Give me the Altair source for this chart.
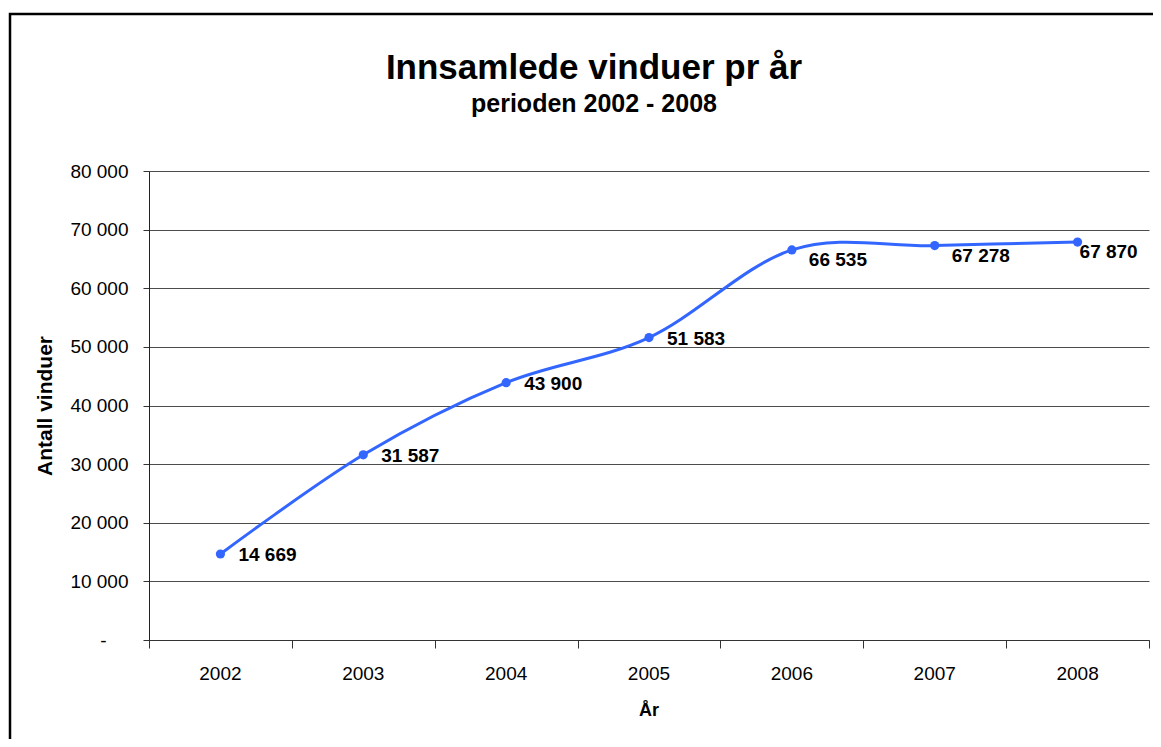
import altair as alt
import pandas as pd

years = ["2002", "2003", "2004", "2005", "2006", "2007", "2008"]
values = [14669, 31587, 43900, 51583, 66535, 67278, 67870]
y_ticks = [0, 10000, 20000, 30000, 40000, 50000, 60000, 70000, 80000]
title_text = "Innsamlede vinduer pr år"
subtitle_text = "perioden 2002 - 2008"
y_title = "Antall vinduer"
x_title = "År"

df = pd.DataFrame({
    "year": years,
    "value": values,
    "pos": [i + 0.5 for i in range(len(years))],
    "label": [f"{v:,}".replace(",", " ") for v in values],
})

FONT = "Liberation Sans"
W, H = 1000, 469
BLUE = "#3366FF"
GRID = "#4d4d4d"

xscale = alt.Scale(domain=[0, len(years)], nice=False, zero=False)
yscale = alt.Scale(domain=[0, 80000], nice=False)

x_enc = alt.X("pos:Q", scale=xscale,
              axis=alt.Axis(values=list(range(len(years) + 1)), labels=False, grid=False,
                            tickSize=8, tickColor="#333", domainColor="#333", title=None))
y_enc = alt.Y("value:Q", scale=yscale,
              axis=alt.Axis(values=y_ticks,
                            labelExpr="datum.value == 0 ? '-' : replace(format(datum.value, ','), ',', ' ')",
                            labelFont=FONT, labelFontSize=19, labelColor="#000",
                            labelPadding={"condition": {"test": "datum.value == 0", "value": 37}, "value": 15},
                            tickSize=6, tickColor="#333",
                            domainColor="#222", gridColor=GRID, gridWidth=1,
                            title=y_title, titleFont=FONT, titleFontSize=21,
                            titleFontWeight="bold", titleColor="#000",
                            titleAngle=270, titleBaseline="alphabetic", titleAlign="center",
                            titleX=-98, titleY=H / 2))

base = alt.Chart(df)

line = base.mark_line(color=BLUE, strokeWidth=3, interpolate="cardinal", tension=0).encode(
    x=x_enc, y=y_enc)
points = base.mark_point(filled=True, color=BLUE, size=85, opacity=1).encode(
    x="pos:Q", y="value:Q")

lab_style = dict(font=FONT, fontSize=19, fontWeight="bold", color="#000",
                 align="left", baseline="middle")
labels_a = base.transform_filter("datum.pos < 4").mark_text(dx=18, dy=1, **lab_style).encode(
    x="pos:Q", y="value:Q", text="label:N")
labels_b = base.transform_filter("datum.pos > 4 && datum.pos < 6").mark_text(dx=17, dy=10, **lab_style).encode(
    x="pos:Q", y="value:Q", text="label:N")
labels_c = base.transform_filter("datum.pos > 6").mark_text(dx=2, dy=10, **lab_style).encode(
    x="pos:Q", y="value:Q", text="label:N")

xlabels = base.mark_text(font=FONT, fontSize=19, color="#000", baseline="middle").encode(
    x="pos:Q", y=alt.value(503), text="year:N")

one = alt.Data(values=[{"a": 1}])
title = alt.Chart(one).mark_text(font=FONT, fontSize=35, fontWeight="bold", color="#000",
                                 baseline="middle").encode(
    x=alt.value(445), y=alt.value(-103), text=alt.value(title_text))
subtitle = alt.Chart(one).mark_text(font=FONT, fontSize=25, fontWeight="bold", color="#000",
                                    baseline="middle").encode(
    x=alt.value(445), y=alt.value(-67), text=alt.value(subtitle_text))
xtitle = alt.Chart(one).mark_text(font=FONT, fontSize=18, fontWeight="bold", color="#000",
                                  baseline="middle").encode(
    x=alt.value(500), y=alt.value(540), text=alt.value(x_title))
border = alt.Chart(one).mark_rect(fill=None, filled=False, stroke="#000", strokeWidth=2.5).encode(
    x=alt.value(-139), x2=alt.value(1100), y=alt.value(-157), y2=alt.value(700))

chart = alt.layer(border, line, points, labels_a, labels_b, labels_c, xlabels,
                  title, subtitle, xtitle).properties(
    width=W, height=H,
    autosize=alt.AutoSizeParams(type="none"),
    padding={"left": 141, "top": 163, "right": 4, "bottom": 99},
    background="white",
).configure_view(stroke=None)

chart.save("out.html", embed_options={"renderer": "svg", "actions": False})
